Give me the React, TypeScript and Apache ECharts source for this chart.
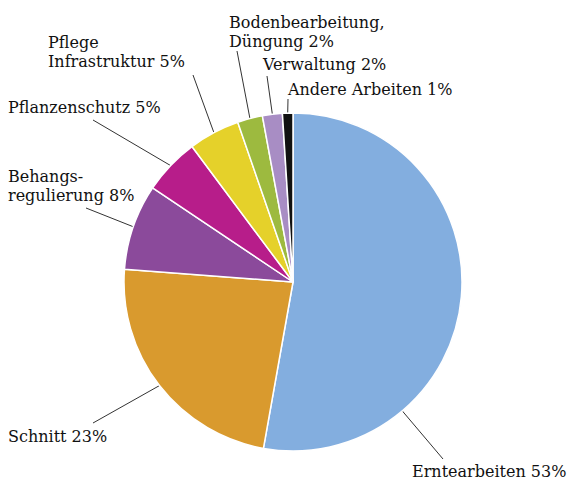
import React, { useEffect, useRef } from "react";
import * as echarts from "echarts";

const categories = [
  "Erntearbeiten",
  "Schnitt",
  "Behangs-\nregulierung",
  "Pflanzenschutz",
  "Pflege\nInfrastruktur",
  "Bodenbearbeitung,\nDüngung",
  "Verwaltung",
  "Andere Arbeiten",
];
const shares = [52.8, 23.4, 8.2, 5.4, 4.9, 2.4, 1.9, 1.0];
const colors = ["#83AEDF", "#D99A2E", "#8B4A9B", "#B71D8A", "#E5D12A", "#9DBA3F", "#A88DC4", "#111111"];

// layout of the annotations (not data)
const CENTER: [number, number] = [293, 282];
const RADIUS = 169;
const labelPos: [number, number][] = [
  [412, 462],
  [8, 427],
  [8, 167],
  [8, 98],
  [48, 33],
  [229, 13],
  [263, 55],
  [288, 80],
];
// where on the slice's arc the leader line starts (fraction of slice)
const anchorFrac = [0.735, 0.5, 0.5, 0.5, 0.5, 0.5, 0.5, 0.5];
// leader line end near the label
const lineEnds: [number, number][] = [
  [443, 459],
  [93, 423],
  [86, 208],
  [93, 120],
  [193, 75],
  [237, 51],
  [267, 76],
  [288, 99],
];

export default function App() {
  const ref = useRef<HTMLDivElement>(null);
  useEffect(() => {
    if (!ref.current) return;
    const chart = echarts.init(ref.current, null, { renderer: "svg" });
    const total = shares.reduce((a, b) => a + b, 0);
    const starts: number[] = [];
    shares.reduce((acc, v) => {
      starts.push(acc);
      return acc + v;
    }, 0);
    chart.setOption({
      animation: false,
      backgroundColor: "#ffffff",
      series: [
        {
          type: "pie",
          center: CENTER,
          radius: [0, RADIUS],
          startAngle: 90,
          clockwise: true,
          avoidLabelOverlap: false,
          itemStyle: { borderColor: "#ffffff", borderWidth: 1.5 },
          label: {
            show: true,
            position: "outside",
            formatter: (p: any) => `${p.name} ${Math.round(p.value)}%`,
            fontFamily: "DejaVu Serif",
            fontSize: 16,
            lineHeight: 19,
            color: "#111111",
            align: "left",
          },
          labelLine: {
            show: true,
            length: 10,
            length2: 0,
            lineStyle: { color: "#333333", width: 1 },
          },
          labelLayout: (params: any) => {
            const i = params.dataIndex;
            const pos = labelPos[i];
            const theta =
              ((starts[i] + anchorFrac[i] * shares[i]) / total) * 2 * Math.PI;
            const ax = CENTER[0] + RADIUS * Math.sin(theta);
            const ay = CENTER[1] - RADIUS * Math.cos(theta);
            return {
              x: pos[0],
              y: pos[1],
              align: "left",
              verticalAlign: "top",
              labelLinePoints: [
                [ax, ay],
                lineEnds[i],
                lineEnds[i],
              ],
            };
          },
          emphasis: { disabled: true },
          data: categories.map((c, i) => ({
            name: c,
            value: shares[i],
            itemStyle: { color: colors[i] },
          })),
        },
      ],
    });
    return () => chart.dispose();
  }, []);
  return (
    <div
      ref={ref}
      style={{ position: "fixed", left: 0, top: 0, width: 571, height: 481 }}
    />
  );
}
